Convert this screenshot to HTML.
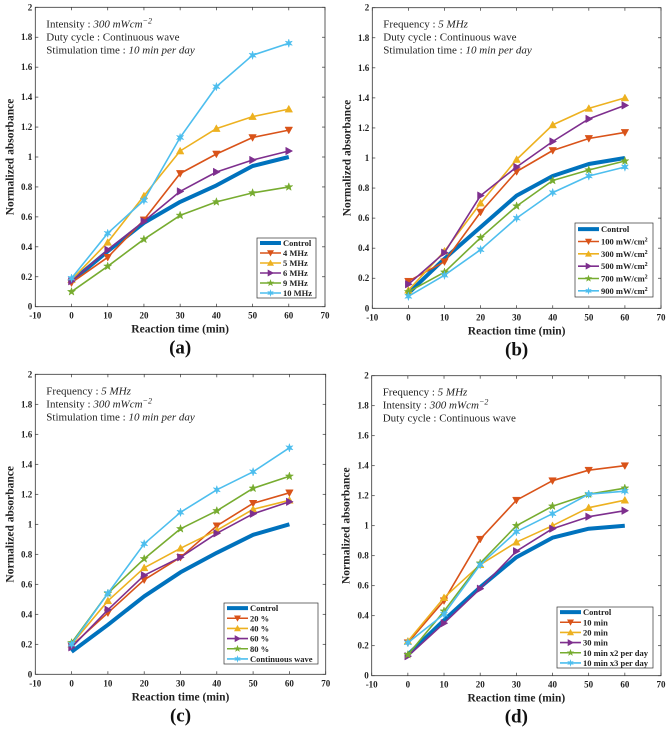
<!DOCTYPE html>
<html><head><meta charset="utf-8">
<style>
body{margin:0;background:#fff;}
svg{display:block;font-family:"Liberation Serif",serif;}
</style></head>
<body>
<svg id="fig" width="669" height="730" viewBox="0 0 669 730" xmlns="http://www.w3.org/2000/svg"></svg>
<script>
const xValues=[0,10,20,30,40,50,60];
const xTicks=[-10,0,10,20,30,40,50,60,70];
const yTicks=[0,0.2,0.4,0.6,0.8,1,1.2,1.4,1.6,1.8,2];
const yTickLabels=["0","0.2","0.4","0.6","0.8","1","1.2","1.4","1.6","1.8","2"];

const aNames=["Control","4 MHz","5 MHz","6 MHz","9 MHz","10 MHz"];
const aControl=[0.17,0.37,0.56,0.70,0.81,0.94,1.0];
const a4=[0.16,0.33,0.58,0.89,1.02,1.13,1.18];
const a5=[0.18,0.43,0.74,1.04,1.19,1.27,1.32];
const a6=[0.17,0.38,0.57,0.77,0.90,0.98,1.04];
const a9=[0.10,0.27,0.45,0.61,0.70,0.76,0.80];
const a10=[0.19,0.49,0.71,1.13,1.47,1.68,1.76];

const bNames=["Control","100 mW/cm","300 mW/cm","500 mW/cm","700 mW/cm","900 mW/cm"];
const bControl=[0.10,0.33,0.54,0.75,0.88,0.96,1.0];
const b100=[0.18,0.31,0.64,0.91,1.05,1.13,1.17];
const b300=[0.12,0.38,0.70,0.99,1.22,1.33,1.40];
const b500=[0.16,0.37,0.75,0.94,1.11,1.26,1.35];
const b700=[0.11,0.24,0.47,0.68,0.85,0.92,0.98];
const b900=[0.08,0.22,0.39,0.60,0.77,0.88,0.94];

const cNames=["Control","20 %","40 %","60 %","80 %","Continuous wave"];
const cControl=[0.15,0.33,0.52,0.68,0.81,0.93,1.0];
const c20=[0.19,0.41,0.63,0.78,0.99,1.14,1.21];
const c40=[0.20,0.49,0.71,0.84,0.96,1.10,1.16];
const c60=[0.18,0.43,0.66,0.78,0.94,1.07,1.15];
const c80=[0.21,0.54,0.77,0.97,1.09,1.24,1.32];
const cCW=[0.20,0.54,0.87,1.08,1.23,1.35,1.51];

const dNames=["Control","10 min","20 min","30 min","10 min x2 per day","10 min x3 per day"];
const dControl=[0.14,0.37,0.59,0.79,0.92,0.98,1.0];
const d10=[0.22,0.50,0.91,1.17,1.30,1.37,1.40];
const d20=[0.23,0.52,0.74,0.89,1.00,1.12,1.17];
const d30=[0.13,0.35,0.58,0.83,0.98,1.06,1.10];
const dx2=[0.14,0.43,0.75,1.00,1.13,1.21,1.25];
const dx3=[0.22,0.41,0.74,0.96,1.08,1.21,1.23];

const colors=["#0072BD","#D95319","#EDB120","#7E2F8E","#77AC30","#4DBEEE"];
const markers=["none","down","up","right","star","hex"];
const NS="http://www.w3.org/2000/svg";
const svg=document.getElementById('fig');
function el(tag,attrs,parent){const e=document.createElementNS(NS,tag);for(const k in attrs)e.setAttribute(k,attrs[k]);(parent||svg).appendChild(e);return e;}

function markerPath(type,x,y,s){
  if(type==="down")return `M${x-s},${y-s*0.8}L${x+s},${y-s*0.8}L${x},${y+s}Z`;
  if(type==="up")return `M${x-s},${y+s*0.8}L${x+s},${y+s*0.8}L${x},${y-s}Z`;
  if(type==="right")return `M${x-s*0.8},${y-s}L${x-s*0.8},${y+s}L${x+s},${y}Z`;
  if(type==="star"||type==="hex"){
    const n=type==="star"?5:6;let d="";
    for(let i=0;i<2*n;i++){const r=i%2?s*0.45:s*1.1;const a=-Math.PI/2+i*Math.PI/n;d+=(i?"L":"M")+(x+r*Math.cos(a)).toFixed(1)+","+(y+r*Math.sin(a)).toFixed(1);}
    return d+"Z";}
  return "";
}

function panel(id,box,series,names,notes,legBox,label,supLegend){
  const g=el('g',{});
  
  
  const [L,R,T,B]=box;
  const xs=v=>L+(v-(-10))/80*(R-L);
  const ys=v=>B-v/2*(B-T);
  el('rect',{x:L,y:T,width:R-L,height:B-T,fill:'#fff',stroke:'#333','stroke-width':0.8},g);
  xTicks.forEach(t=>{
    const x=xs(t);
    el('line',{x1:x,x2:x,y1:B,y2:B-3,stroke:'#333','stroke-width':0.7},g);
    el('line',{x1:x,x2:x,y1:T,y2:T+3,stroke:'#333','stroke-width':0.7},g);
    const tx=el('text',{x:x,y:B+12,'font-size':9,'font-weight':'bold','text-anchor':'middle',fill:'#222'},g);
    tx.textContent=t;
    
    
  });
  yTicks.forEach((t,i)=>{
    const y=ys(t);
    el('line',{x1:L,x2:L+3,y1:y,y2:y,stroke:'#333','stroke-width':0.7},g);
    el('line',{x1:R,x2:R-3,y1:y,y2:y,stroke:'#333','stroke-width':0.7},g);
    const tx=el('text',{x:L-3,y:y+3,'font-size':9,'font-weight':'bold','text-anchor':'end',fill:'#222'},g);
    tx.textContent=yTickLabels[i];
    
    
  });
  const xt=el('text',{x:(L+R)/2,y:B+26,'font-size':11.5,'font-weight':'bold','text-anchor':'middle',fill:'#222'},g);
  xt.textContent='Reaction time (min)';
  
  
  const yc=(T+B)/2;
  const yt=el('text',{x:L-22,y:yc,'font-size':11.5,'font-weight':'bold','text-anchor':'middle',fill:'#222',transform:`rotate(-90 ${L-22} ${yc})`},g);
  yt.textContent='Normalized absorbance';
  
  
  // series
  series.forEach((vals,si)=>{
    const sg=el('g',{},g);
    
    
    const pts=vals.map((v,i)=>xs(xValues[i]).toFixed(1)+','+ys(v).toFixed(1)).join(' ');
    el('polyline',{points:pts,fill:'none',stroke:colors[si],'stroke-width':si===0?4:1.6,'stroke-linejoin':'round'},sg);
    if(si>0)vals.forEach((v,i)=>{
      const m=el('path',{d:markerPath(markers[si],xs(xValues[i]),ys(v),3.8),fill:colors[si],stroke:colors[si],'stroke-width':0.5},sg);
      
      
    });
  });
  // notes
  const ng=el('g',{},g);
  
  
  notes.forEach((n,i)=>{
    const t=el('text',{x:L+11,y:T+20+i*13,'font-size':11,fill:'#222'},ng);
    t.innerHTML=n;
  });
  // legend
  const [lx,ly,lw,lh]=legBox;
  const lg=el('g',{},g);
  
  
  el('rect',{x:lx,y:ly,width:lw,height:lh,fill:'#fff',stroke:'#333','stroke-width':0.7},lg);
  const rh=lh/6;
  names.forEach((nm,i)=>{
    const cy=ly+rh*(i+0.5);
    const e=el('g',{},lg);
    
    
    el('line',{x1:lx+3,x2:lx+24,y1:cy,y2:cy,stroke:colors[i],'stroke-width':i===0?4:1.6},e);
    if(i>0)el('path',{d:markerPath(markers[i],lx+13.5,cy,3.5),fill:colors[i]},e);
    const t=el('text',{x:lx+26,y:cy+3,'font-size':8.5,'font-weight':'bold',fill:'#222'},e);
    t.textContent=nm;
    if(supLegend&&i>0){const s=el('tspan',{dy:-3,'font-size':6},t);s.textContent='2';}
  });
  const pl=el('text',{x:(L+R)/2,y:B+47,'font-size':19,'font-weight':'bold','text-anchor':'middle',fill:'#111'},g);
  pl.textContent=label;
  
  
}
const I='Intensity : <tspan font-style="italic">300 mWcm</tspan><tspan font-style="italic" dy="-4" font-size="8">−2</tspan>';
const F='Frequency : <tspan font-style="italic">5 MHz</tspan>';
const D='Duty cycle : Continuous wave';
const S='Stimulation  time : <tspan font-style="italic">10 min per day</tspan>';
panel('a',[35.3,325,7.3,306.7],[aControl,a4,a5,a6,a9,a10],aNames,[I,D,S],[257,238,59,60],'(a)',false);
panel('b',[372.3,661,7.7,308.3],[bControl,b100,b300,b500,b700,b900],bNames,[F,D,S],[575,223,78,74],'(b)',true);
panel('c',[35.3,325.7,374.3,674.3],[cControl,c20,c40,c60,c80,cCW],cNames,[F,I,S],[224,603,94,61],'(c)',false);
panel('d',[371.7,661,375.7,675.7],[dControl,d10,d20,d30,dx2,dx3],dNames,[F,I,D],[557,607,96,61],'(d)',false);
</script>
</body></html>
